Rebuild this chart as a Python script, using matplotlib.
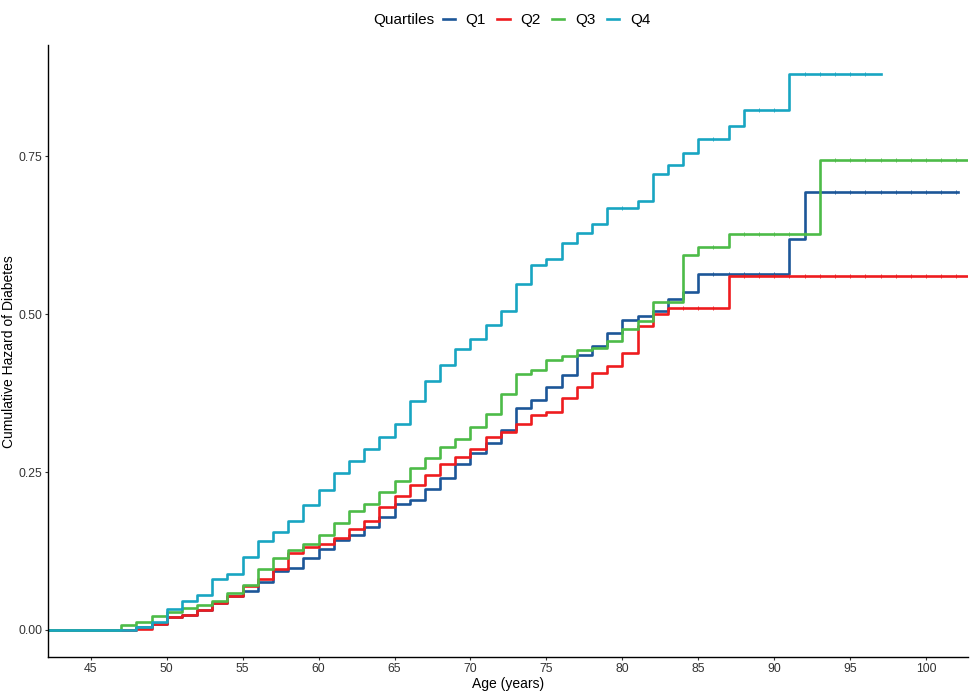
import matplotlib
matplotlib.use("Agg")
import matplotlib.pyplot as plt
import numpy as np

plt.rcParams["font.family"] = ["Liberation Sans", "DejaVu Sans"]

# event ages and cumulative hazard after each event (step "post")
q1_ages = list(range(48, 86)) + [91, 92]
q1_haz = [0.004, 0.010, 0.021, 0.024, 0.032, 0.042, 0.053, 0.062, 0.076, 0.093,
          0.098, 0.114, 0.128, 0.142, 0.150, 0.163, 0.178, 0.200, 0.206, 0.223,
          0.241, 0.263, 0.280, 0.296, 0.316, 0.351, 0.364, 0.385, 0.403, 0.435,
          0.449, 0.470, 0.491, 0.497, 0.505, 0.524, 0.535, 0.564, 0.619, 0.693]
q1_end = 102.1

q2_ages = list(range(48, 84)) + [87]
q2_haz = [0.002, 0.009, 0.021, 0.024, 0.032, 0.042, 0.054, 0.069, 0.081, 0.097,
          0.121, 0.131, 0.136, 0.146, 0.160, 0.173, 0.195, 0.212, 0.229, 0.245,
          0.262, 0.274, 0.286, 0.306, 0.314, 0.326, 0.340, 0.345, 0.368, 0.384,
          0.407, 0.418, 0.439, 0.481, 0.500, 0.510, 0.560]
q2_end = 103.5

q3_ages = list(range(47, 83)) + [84, 85, 87, 93]
q3_haz = [0.007, 0.013, 0.022, 0.028, 0.035, 0.040, 0.046, 0.058, 0.071, 0.096,
          0.114, 0.127, 0.136, 0.151, 0.170, 0.189, 0.199, 0.219, 0.236, 0.256,
          0.273, 0.290, 0.303, 0.322, 0.342, 0.373, 0.405, 0.411, 0.427, 0.434,
          0.443, 0.447, 0.457, 0.476, 0.489, 0.519, 0.593, 0.607, 0.627, 0.745]
q3_end = 103.5

q4_ages = list(range(48, 80)) + [81, 82, 83, 84, 85, 87, 88, 91]
q4_haz = [0.005, 0.012, 0.033, 0.046, 0.056, 0.081, 0.088, 0.116, 0.141, 0.155,
          0.173, 0.198, 0.222, 0.249, 0.267, 0.287, 0.306, 0.326, 0.362, 0.394,
          0.419, 0.445, 0.461, 0.483, 0.505, 0.548, 0.578, 0.588, 0.613, 0.628,
          0.643, 0.668, 0.680, 0.722, 0.737, 0.756, 0.778, 0.798, 0.823, 0.881]
q4_end = 97.0

labels = ["Q1", "Q2", "Q3", "Q4"]
colors = ["#1c5698", "#ee1c1f", "#4dbb48", "#18a5c2"]
series = [(q1_ages, q1_haz, q1_end), (q2_ages, q2_haz, q2_end),
          (q3_ages, q3_haz, q3_end), (q4_ages, q4_haz, q4_end)]

x_ticks = list(range(45, 101, 5))
y_ticks = [0.0, 0.25, 0.50, 0.75]
y_ticklabels = ["0.00", "0.25", "0.50", "0.75"]

fig = plt.figure(figsize=(9.75, 6.96), dpi=100)
ax = fig.add_axes([0.049, 0.056, 0.944, 0.879])

handles = []
for (ages, haz, end), lab, col in zip(series, labels, colors):
    x = [40.0] + list(ages) + [end]
    y = [0.0] + list(haz) + [haz[-1]]
    (ln,) = ax.step(x, y, where="post", color=col, lw=1.9, label=lab)
    handles.append(ln)
    # censoring marks at whole years with no event
    cens = [a for a in range(ages[0] + 1, int(end) + 1) if a not in ages and a < end]
    cens_y = [haz[np.searchsorted(ages, a, side="right") - 1] for a in cens]
    ax.plot(cens, cens_y, ls="none", marker="|", ms=3.5, mew=0.6, color=col)

ax.set_xlim(42.17, 102.77)
ax.set_ylim(-0.043, 0.926)
ax.set_xticks(x_ticks)
ax.set_yticks(y_ticks)
ax.set_yticklabels(y_ticklabels)
ax.tick_params(labelsize=8.8, colors="#333333", length=2.5, width=0.8, pad=1.5)
ax.spines["top"].set_visible(False)
ax.spines["right"].set_visible(False)
ax.spines["left"].set_linewidth(1.0)
ax.spines["bottom"].set_linewidth(1.0)
ax.set_xlabel("Age (years)", fontsize=10, labelpad=2)
ax.set_ylabel("Cumulative Hazard of Diabetes", fontsize=10)
ax.yaxis.set_label_coords(-0.034, 0.5)

fig.text(0.445, 0.971, "Quartiles", fontsize=11, ha="right", va="center")
fig.legend(handles=handles, labels=labels, loc="center left",
           bbox_to_anchor=(0.454, 0.971), ncol=4, frameon=False,
           fontsize=11, handlelength=0.8, handletextpad=0.7,
           columnspacing=0.75, borderpad=0.0, borderaxespad=0.0)

fig.savefig("out.png", dpi=100)
